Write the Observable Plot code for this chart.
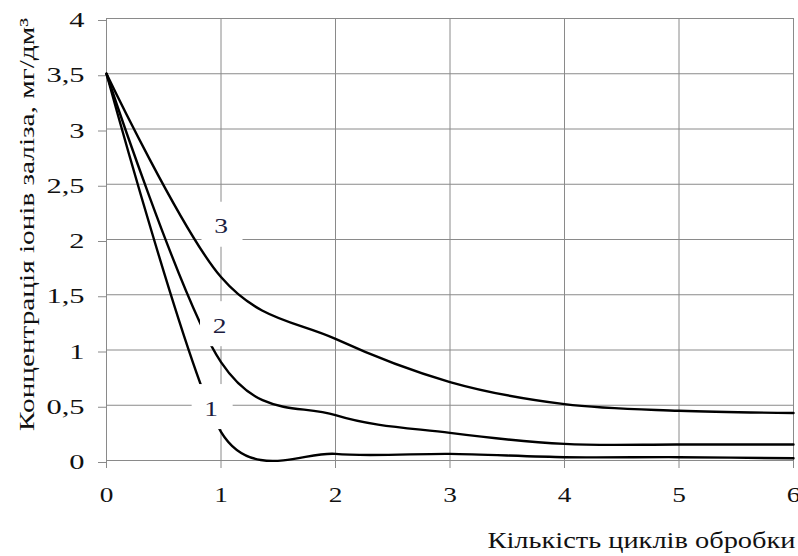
<!DOCTYPE html>
<html><head><meta charset="utf-8">
<script src="https://cdn.jsdelivr.net/npm/d3@7"></script>
<script src="https://cdn.jsdelivr.net/npm/@observablehq/plot@0.6"></script>
<style>html,body{margin:0;padding:0;background:#fff}</style>
</head><body><div id="chart"></div>
<script>
const cycles = [0, 1, 2, 3, 4, 5, 6];
const curve1 = [3.5, 0.26, 0.06, 0.06, 0.03, 0.03, 0.02];
const curve2 = [3.5, 0.89, 0.41, 0.25, 0.15, 0.145, 0.145];
const curve3 = [3.5, 1.66, 1.10, 0.71, 0.51, 0.45, 0.43];
const seriesNames = ["1", "2", "3"];
const labelText = ["3", "2", "1"];
const labelX = [1.0, 0.987, 0.914];
const labelY = [2.12, 1.22, 0.47];
const xTicks = [0, 1, 2, 3, 4, 5, 6];
const yTicks = [0, 0.5, 1, 1.5, 2, 2.5, 3, 3.5, 4];
const xTitle = "Кількість циклів обробки";
const yTitle = "Концентрація іонів заліза, мг/дм³";

const seriesValues = [curve1, curve2, curve3];
const rows = [];
seriesValues.forEach((vals, s) => vals.forEach((v, i) => rows.push({series: seriesNames[s], x: cycles[i], y: v})));
const labels = labelText.map((t, i) => ({text: t, x: labelX[i], y: labelY[i]}));

const serif = "Liberation Serif";
const grid = "#8a8a8a";
const lineStyle = {x: "x", y: "y", z: "series", curve: "cardinal", stroke: "#000", strokeWidth: 2.4};
const chart = Plot.plot({
  width: 798, height: 556,
  marginLeft: 106, marginRight: 5, marginTop: 18, marginBottom: 96,
  x: {domain: [0, 6]},
  y: {domain: [0, 4]},
  style: {fontFamily: serif, fontSize: "21px", color: "#111", background: "#fff"},
  marks: [
    Plot.gridX(xTicks, {stroke: grid, strokeOpacity: 1, strokeWidth: 1}),
    Plot.gridY(yTicks, {stroke: grid, strokeOpacity: 1, strokeWidth: 1}),
    Plot.axisX(xTicks, {tickSize: 8, tickPadding: 19, stroke: grid, fill: "#111", fontSize: 21, fontFamily: serif,
      label: null, tickFormat: d => String(d)}),
    Plot.axisY(yTicks, {tickSize: 8, tickPadding: 14, stroke: grid, fill: "#111", fontSize: 21, fontFamily: serif,
      label: null, dy: 2, tickFormat: d => String(d).replace(".", ",")}),
    Plot.line(rows.filter(d => d.series === "1"), {...lineStyle, tension: 0.2}),
    Plot.line(rows.filter(d => d.series !== "1"), {...lineStyle, tension: 0}),
    Plot.rect(labels, {x1: "x", x2: "x", y1: "y", y2: "y", fill: "#fff",
      insetLeft: -19, insetRight: -22, insetTop: -24, insetBottom: -21}),
    Plot.text(labels, {x: "x", y: "y", text: "text", fill: "#1c1c40", fontSize: 22, fontFamily: serif}),
    Plot.text([xTitle], {frameAnchor: "bottom-right", textAnchor: "end", lineAnchor: "bottom", dx: 2, dy: 87,
      fontSize: 23.5, fontFamily: serif, fill: "#111"}),
    Plot.text([yTitle], {frameAnchor: "left", rotate: -90, textAnchor: "middle", lineAnchor: "bottom", dx: -73, dy: -15,
      fontSize: 21, fontFamily: serif, fill: "#111"})
  ]
});
document.getElementById("chart").appendChild(chart);

// the reference's lettering is set wider than the plain font: stretch along the reading direction
function stretch(texts, factor, target) {
  texts.forEach(t => {
    const L = t.getComputedTextLength();
    t.setAttribute("textLength", target ? target : L * factor);
    t.setAttribute("lengthAdjust", "spacingAndGlyphs");
  });
}
const textGroups = chart.querySelectorAll('g[aria-label="text"]');
stretch(chart.querySelectorAll('g[aria-label="y-axis tick label"] text'), 1.45);
stretch(chart.querySelectorAll('g[aria-label="x-axis tick label"] text'), 1.3);
stretch(textGroups[0].querySelectorAll("text"), 1.25);
stretch(textGroups[1].querySelectorAll("text"), 1, 308);
stretch(textGroups[2].querySelectorAll("text"), 1, 413);
</script>
</body></html>
